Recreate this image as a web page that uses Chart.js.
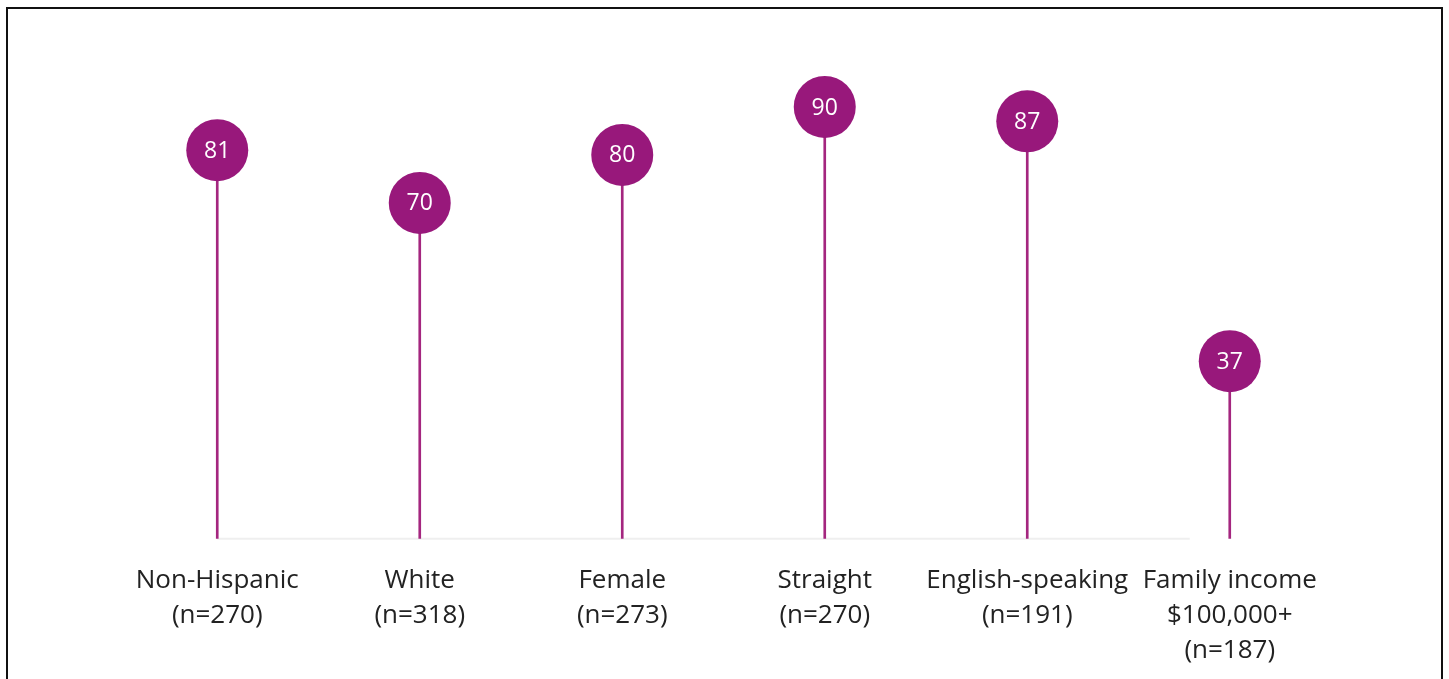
<!DOCTYPE html>
<html>
<head>
<meta charset="utf-8">
<script src="https://cdn.jsdelivr.net/npm/chart.js@4"></script>
<style>
  body { margin: 0; background: #fff; overflow: hidden; }
  #frame {
    position: absolute; left: 6px; top: 7px;
    width: 1437px; height: 720px;
    border: 2px solid #111; box-sizing: border-box;
  }
  #chart { position: absolute; left: 0; top: 0; }
</style>
</head>
<body>
<div id="frame"></div>
<canvas id="chart" width="1449" height="712"></canvas>
<script>
"use strict";

const categories = [
  ["Non-Hispanic", "(n=270)"],
  ["White", "(n=318)"],
  ["Female", "(n=273)"],
  ["Straight", "(n=270)"],
  ["English-speaking", "(n=191)"],
  ["Family income", "$100,000+", "(n=187)"],
];
const values = [81, 70, 80, 90, 87, 37];

const purple = "#98187b";
const stem = "#a4267f";

// white number inside each circle + faint baseline
const lollipopLabels = {
  id: "lollipopLabels",
  beforeDatasetsDraw(chart) {
    const meta = chart.getDatasetMeta(1);
    const y0 = chart.scales.y.getPixelForValue(0);
    const ctx = chart.ctx;
    ctx.save();
    ctx.strokeStyle = "#efefef";
    ctx.lineWidth = 2;
    ctx.beginPath();
    ctx.moveTo(meta.data[0].x, y0);
    ctx.lineTo(meta.data[meta.data.length - 1].x - 40, y0);
    ctx.stroke();
    ctx.restore();
  },
  afterDatasetsDraw(chart) {
    const meta = chart.getDatasetMeta(1);
    const ctx = chart.ctx;
    ctx.save();
    ctx.fillStyle = "#fff";
    ctx.font = "23px 'Open Sans', sans-serif";
    ctx.textAlign = "center";
    ctx.textBaseline = "middle";
    meta.data.forEach((pt, i) => {
      ctx.fillText(String(values[i]), pt.x, pt.y + 1);
    });
    ctx.restore();
  },
};

const ctx = document.getElementById("chart").getContext("2d");

new Chart(ctx, {
  type: "bar",
  data: {
    labels: categories,
    datasets: [
      {
        type: "bar",
        data: values,
        backgroundColor: stem,
        barThickness: 2,
        order: 2,
      },
      {
        type: "line",
        data: values,
        showLine: false,
        pointRadius: 31,
        pointHoverRadius: 31,
        pointBackgroundColor: purple,
        pointBorderWidth: 0,
        order: 1,
      },
    ],
  },
  options: {
    responsive: false,
    animation: false,
    events: [],
    layout: {
      autoPadding: false,
      padding: { left: 116, right: 118, top: 59, bottom: 20 },
    },
    plugins: {
      legend: { display: false },
      tooltip: { enabled: false },
    },
    scales: {
      y: {
        display: false,
        min: 0,
        max: 100,
      },
      x: {
        grid: { display: false, drawTicks: false },
        border: { display: false },
        ticks: {
          padding: 24,
          color: "#222",
          maxRotation: 0,
          autoSkip: false,
          font: { size: 26, family: "'Open Sans', sans-serif", lineHeight: 1.35 },
        },
      },
    },
  },
  plugins: [lollipopLabels],
});
</script>
</body>
</html>
